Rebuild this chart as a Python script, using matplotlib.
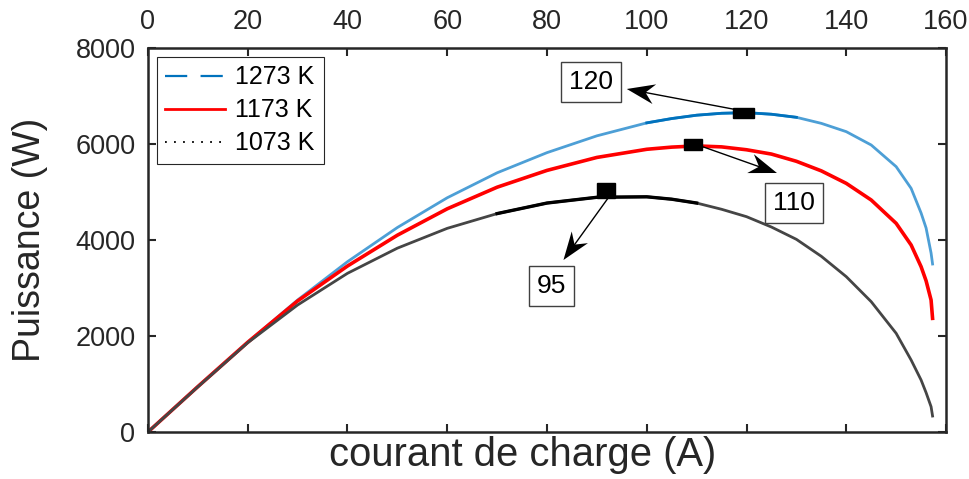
import numpy as np
import matplotlib.pyplot as plt
import matplotlib
from matplotlib.lines import Line2D
from matplotlib.patches import Rectangle, Polygon

matplotlib.rcParams['font.family'] = ['Liberation Sans', 'DejaVu Sans']

# courant de charge (A)
courant = [0, 10, 20, 30, 40, 50, 60, 70, 80, 90, 100, 105, 110, 115, 120, 125,
           130, 135, 140, 145, 150, 153, 155, 156, 157, 157.3]
# puissance (W) pour chaque température
p_1273 = [0, 950, 1870, 2750, 3548, 4260, 4880, 5400, 5820, 6170, 6440, 6530,
          6600, 6640, 6653, 6620, 6556, 6430, 6257, 5979, 5528, 5076, 4562, 4250,
          3729, 3500]
p_1173 = [0, 945, 1870, 2730, 3458, 4100, 4650, 5100, 5450, 5720, 5890, 5935,
          5960, 5940, 5880, 5790, 5640, 5440, 5180, 4833, 4347, 3896, 3444, 3150,
          2750, 2368]
p_1073 = [0, 940, 1860, 2646, 3306, 3830, 4243, 4550, 4770, 4890, 4900, 4850,
          4770, 4640, 4486, 4270, 4014, 3660, 3236, 2715, 2056, 1500, 1083, 820,
          528, 333]

# points maximum marqués
pics_x = [119.4, 109.2, 91.8]
pics_y = [6652, 5990, 5040]
pics_w = [4.4, 3.6, 3.6]
pics_h = [210, 230, 310]
pics_txt = ['120', '110', '95']
fleche_debut = [(118.3, 6708), (111.4, 5937), (92.4, 4896)]
fleche_fin = [(96.0, 7146), (126.1, 5396), (83.3, 3583)]
texte_pos = [(88.8, 7292), (129.5, 4771), (80.9, 3042)]

fig = plt.figure(figsize=(9.69, 4.79), dpi=100)
ax = fig.add_axes([0.1527, 0.0981, 0.8236, 0.8017])
ax.set_xlim(0, 160)
ax.set_ylim(0, 8000)

ax.plot(courant, p_1273, color='#4d9fd6', lw=2)
ax.plot(courant[10:17], p_1273[10:17], color='#0072bd', lw=2)
ax.plot(courant, p_1173, color='#ff0000', lw=2.6)
ax.plot(courant, p_1073, color='#454545', lw=2)
ax.plot(courant[7:13], p_1073[7:13], color='black', lw=2.4)

for x, y, w, h in zip(pics_x, pics_y, pics_w, pics_h):
    ax.add_patch(Rectangle((x - w / 2, y - h / 2), w, h, color='black', zorder=5))

# flèches avec tête creusée (style vback)
inv = ax.transData.inverted()
for txt, d, f, t in zip(pics_txt, fleche_debut, fleche_fin, texte_pos):
    p0 = ax.transData.transform(d)
    p1 = ax.transData.transform(f)
    u = (p1 - p0) / np.hypot(*(p1 - p0))
    n = np.array([-u[1], u[0]])
    notch = p1 - 19 * u
    head = [p1, p1 - 28 * u + 10 * n, notch, p1 - 28 * u - 10 * n]
    ax.plot(*zip(d, inv.transform(notch)), color='black', lw=1)
    ax.add_patch(Polygon(inv.transform(head), closed=True, color='black', lw=0))
    ax.text(t[0], t[1], txt, fontsize=19, ha='center', va='center',
            bbox=dict(boxstyle='square,pad=0.3', fc='white', ec='#404040', lw=1))

ax.set_xticks(np.arange(0, 161, 20))
ax.set_yticks(np.arange(0, 8001, 2000))
ax.tick_params(direction='in', length=6, width=1.5, colors='#262626', pad=9,
               labelsize=19.5, top=True, right=True, labeltop=True, labelbottom=False)
for s in ax.spines.values():
    s.set_linewidth(1.8)
    s.set_color('#262626')

ax.set_xlabel('courant de charge (A)', fontsize=28.8, color='#262626', labelpad=2)
ax.xaxis.set_label_coords(0.469, -0.01, transform=ax.transAxes)
ax.xaxis.label.set_va('top')
ax.set_ylabel('Puissance (W)', fontsize=27, color='#262626', labelpad=20)

handles = [Line2D([], [], color='#0072bd', lw=1.6, ls=(0, (10, 6))),
           Line2D([], [], color='#ff0000', lw=2),
           Line2D([], [], color='black', lw=1.3, ls=(0, (1, 4)))]
leg = ax.legend(handles, ['1273 K', '1173 K', '1073 K'], loc='upper left',
                fontsize=18, fancybox=False, edgecolor='#262626',
                framealpha=1, borderaxespad=0.35, handlelength=2.4,
                handletextpad=0.4, labelspacing=0.36, borderpad=0.35)
leg.get_frame().set_linewidth(0.8)

plt.savefig('out.png', dpi=100)
